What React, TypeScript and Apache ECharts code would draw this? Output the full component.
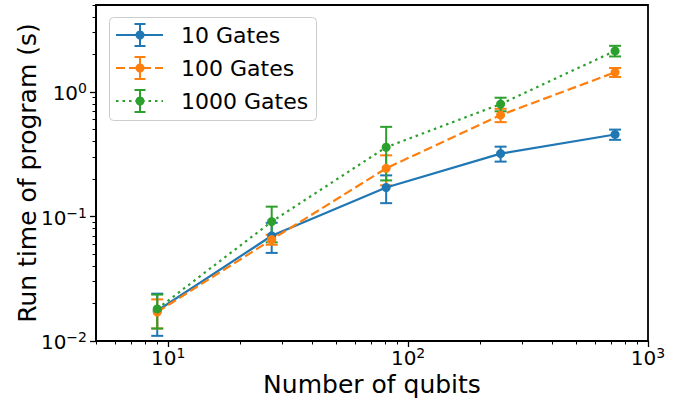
import React, { useEffect, useRef } from 'react';
import * as echarts from 'echarts';

// ---- data ----
const qubits = [9, 27, 81, 243, 729];
const seriesNames = ['10 Gates', '100 Gates', '1000 Gates'];
const time10 = [0.0175, 0.07, 0.171, 0.32, 0.456];
const err10 = [0.0065, 0.019, 0.043, 0.044, 0.043];
const time100 = [0.0171, 0.0653, 0.244, 0.653, 1.44];
const err100 = [0.0045, 0.006, 0.066, 0.08, 0.12];
const time1000 = [0.0181, 0.091, 0.36, 0.8, 2.14];
const err1000 = [0.0055, 0.029, 0.165, 0.1, 0.21];

// ---- axes (tick labels / limits) ----
const xLimits = [5, 1000];
const yLimits = [0.01, 5];
const xMajorTicks = [10, 100, 1000];
const xMinorTicks = [5, 6, 7, 8, 9, 20, 30, 40, 50, 60, 70, 80, 90, 200, 300, 400, 500, 600, 700, 800, 900];
const yMajorTicks = [0.01, 0.1, 1];
const yMinorTicks = [0.02, 0.03, 0.04, 0.05, 0.06, 0.07, 0.08, 0.09, 0.2, 0.3, 0.4, 0.5, 0.6, 0.7, 0.8, 0.9, 2, 3, 4, 5];
const xTitle = 'Number of qubits';
const yTitle = 'Run time of program (s)';

const COLORS = ['#1f77b4', '#ff7f0e', '#2ca02c'];
const DASHES: (number[] | null)[] = [null, [9, 4], [2.5, 4]];
const FONT = 'DejaVu Sans';

const lg = (v: number) => Math.log10(v);

const tickFormatter = (value: number) => {
  const e = Math.round(value);
  const s = e < 0 ? '\u2212' + String(-e) : String(e);
  return `{b|10}{s|${s}}`;
};
const richLabel = {
  b: { fontSize: 20, fontFamily: FONT, color: '#000', lineHeight: 22, verticalAlign: 'bottom' },
  s: { fontSize: 14, fontFamily: FONT, color: '#000', lineHeight: 10, verticalAlign: 'top' },
};

export default function App() {
  const ref = useRef<HTMLDivElement>(null);
  useEffect(() => {
    if (!ref.current) return;
    const chart = echarts.init(ref.current, null, { renderer: 'svg' });
    const times = [time10, time100, time1000];
    const errs = [err10, err100, err1000];

    const series: any[] = [];
    times.forEach((t, i) => {
      const color = COLORS[i];
      series.push({
        type: 'custom',
        name: seriesNames[i] + ' err',
        xAxisIndex: 0,
        yAxisIndex: 0,
        data: qubits.map((q, j) => [lg(q), lg(t[j] - errs[i][j]), lg(t[j] + errs[i][j])]),
        encode: { x: 0, y: [1, 2] },
        silent: true,
        renderItem: (params: any, api: any) => {
          const x = api.value(0);
          const lo = api.coord([x, api.value(1)]);
          const hi = api.coord([x, api.value(2)]);
          const hw = 6;
          const st = { stroke: color, lineWidth: 2 };
          return {
            type: 'group',
            children: [
              { type: 'line', shape: { x1: lo[0], y1: lo[1], x2: hi[0], y2: hi[1] }, style: st },
              { type: 'line', shape: { x1: lo[0] - hw, y1: lo[1], x2: lo[0] + hw, y2: lo[1] }, style: st },
              { type: 'line', shape: { x1: hi[0] - hw, y1: hi[1], x2: hi[0] + hw, y2: hi[1] }, style: st },
            ],
          };
        },
      });
      series.push({
        type: 'line',
        name: seriesNames[i],
        xAxisIndex: 0,
        yAxisIndex: 0,
        data: qubits.map((q, j) => [lg(q), lg(t[j])]),
        symbol: 'circle',
        symbolSize: 9,
        showSymbol: true,
        itemStyle: { color },
        lineStyle: { color, width: 2.2, type: DASHES[i] ? DASHES[i] : 'solid' },
      });
    });

    // legend drawn as graphic (matplotlib errorbar handles)
    const legendChildren: any[] = [
      {
        type: 'rect',
        shape: { x: 109.5, y: 17.5, width: 207, height: 103, r: 4 },
        style: { fill: 'rgba(255,255,255,0.8)', stroke: '#cccccc', lineWidth: 1 },
      },
    ];
    seriesNames.forEach((name, i) => {
      const cy = 35 + i * 33;
      const color = COLORS[i];
      legendChildren.push(
        {
          type: 'line',
          shape: { x1: 116, y1: cy, x2: 163, y2: cy },
          style: { stroke: color, lineWidth: 2.2, lineDash: DASHES[i] || undefined },
        },
        { type: 'line', shape: { x1: 140, y1: cy - 11, x2: 140, y2: cy + 11 }, style: { stroke: color, lineWidth: 2 } },
        { type: 'line', shape: { x1: 134.5, y1: cy - 11, x2: 145.5, y2: cy - 11 }, style: { stroke: color, lineWidth: 2 } },
        { type: 'line', shape: { x1: 134.5, y1: cy + 11, x2: 145.5, y2: cy + 11 }, style: { stroke: color, lineWidth: 2 } },
        { type: 'circle', shape: { cx: 140, cy, r: 4.5 }, style: { fill: color } },
        {
          type: 'text',
          x: 181,
          y: cy,
          style: { text: name, fontSize: 22, fontFamily: FONT, fill: '#000', verticalAlign: 'middle', align: 'left' },
        }
      );
    });

    const axisCommon = {
      type: 'value',
      splitLine: { show: false },
    };

    chart.setOption({
      animation: false,
      backgroundColor: '#ffffff',
      grid: {
        left: 96,
        right: 37,
        top: 5,
        bottom: 62,
        show: true,
        borderColor: '#000',
        borderWidth: 1.8,
        backgroundColor: 'transparent',
        containLabel: false,
        outerBoundsMode: 'none',
      },
      xAxis: [
        {
          ...axisCommon,
          position: 'bottom',
          min: lg(xLimits[0]),
          max: lg(xLimits[1]),
          axisLine: { show: true, onZero: false, lineStyle: { color: '#000', width: 1.8 } },
          axisTick: { show: true, length: 6, customValues: xMajorTicks.map(lg), lineStyle: { color: '#000', width: 1.3 } },
          axisLabel: {
            show: true,
            margin: 5,
            customValues: xMajorTicks.map(lg),
            formatter: tickFormatter,
            rich: richLabel,
            showMinLabel: true,
            showMaxLabel: true,
          },
          name: xTitle,
          nameLocation: 'middle',
          nameGap: 31,
          nameMoveOverlap: false,
          nameTextStyle: { fontSize: 25, fontFamily: FONT, color: '#000' },
        },
        {
          ...axisCommon,
          position: 'bottom',
          offset: 0,
          min: lg(xLimits[0]),
          max: lg(xLimits[1]),
          axisLine: { show: false, onZero: false },
          axisTick: { show: true, length: 3.5, customValues: xMinorTicks.map(lg), lineStyle: { color: '#000', width: 1 } },
          axisLabel: { show: false },
        },
      ],
      yAxis: [
        {
          ...axisCommon,
          position: 'left',
          min: lg(yLimits[0]),
          max: lg(yLimits[1]),
          axisLine: { show: true, onZero: false, lineStyle: { color: '#000', width: 1.8 } },
          axisTick: { show: true, length: 6, customValues: yMajorTicks.map(lg), lineStyle: { color: '#000', width: 1.3 } },
          axisLabel: {
            show: true,
            margin: 9,
            customValues: yMajorTicks.map(lg),
            formatter: tickFormatter,
            rich: richLabel,
            showMinLabel: true,
            showMaxLabel: true,
          },
          name: yTitle,
          nameLocation: 'middle',
          nameGap: 56,
          nameRotate: 90,
          nameMoveOverlap: false,
          nameTextStyle: { fontSize: 25, fontFamily: FONT, color: '#000' },
        },
        {
          ...axisCommon,
          position: 'left',
          offset: 0,
          min: lg(yLimits[0]),
          max: lg(yLimits[1]),
          axisLine: { show: false, onZero: false },
          axisTick: { show: true, length: 3.5, customValues: yMinorTicks.map(lg), lineStyle: { color: '#000', width: 1 } },
          axisLabel: { show: false },
        },
      ],
      series,
      graphic: [{ type: 'group', z: 100, children: legendChildren }],
    });
    return () => chart.dispose();
  }, []);

  return (
    <div
      ref={ref}
      style={{ position: 'absolute', left: 0, top: 0, width: 685, height: 403, background: '#fff' }}
    />
  );
}
